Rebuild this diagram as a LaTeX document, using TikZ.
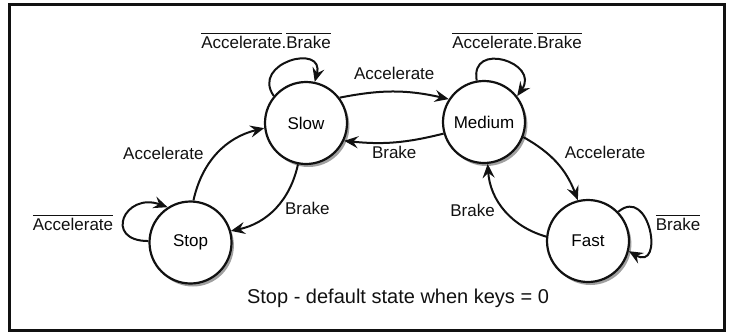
\documentclass[tikz,border=0pt]{standalone}
\usepackage{fontspec}
\setmainfont{Liberation Sans}
\usepackage{tikz}
\usetikzlibrary{arrows.meta, positioning, shadows}
\definecolor{fsmInk}{HTML}{111111}
\definecolor{fsmShadow}{HTML}{A0A0A0}
\newcommand{\notsig}[1]{$\overline{\mbox{#1}}$}
\tikzset{
  stateC/.style={circle, draw=fsmInk, line width=1.1pt, fill=white,
                 minimum size=41pt, inner sep=0pt, font=\fontsize{8.5}{10}\selectfont,
                 general shadow={fill=fsmShadow, shadow xshift=1.2pt, shadow yshift=-1.5pt}},
  arrowK/.style={-{Stealth[length=7pt, width=6pt, inset=2.5pt]}, fsmInk, line width=1pt},
  lbl/.style={font=\fontsize{8.5}{10}\selectfont, inner sep=1.5pt, text=fsmInk},
  frameK/.style={draw=fsmInk, line width=1.5pt},
}

\begin{document}
\begin{tikzpicture}[x=0.5pt, y=0.5pt]
    \useasboundingbox (0,0) rectangle (731,333);
    \draw[frameK] (9.5,2.5) rectangle (724.5,328.5);
    % states
    \node[stateC] (slow)   at (306,210)   {Slow};
    \node[stateC] (medium) at (484,211)   {Medium};
    \node[stateC] (stop)   at (190.5,90.5) {Stop};
    \node[stateC] (fast)   at (588,92)    {Fast};
    % transitions
    \draw[arrowK] (slow.37) to[bend left=12]
      node[lbl, above=4pt] {Accelerate} (medium.147);
    \draw[arrowK] (medium.196) to[bend left=10]
      node[lbl, below=0pt] {Brake} (slow.335);
    \draw[arrowK] (stop.86) to[bend left=32]
      node[lbl, left=5pt] {Accelerate} (slow.187);
    \draw[arrowK] (slow.259) to[bend left=33]
      node[lbl, right=3pt] {Brake} (stop.16);
    \draw[arrowK] (medium.339) to[bend left=20]
      node[lbl, above right=0pt and 2pt] {Accelerate} (fast.104);
    \draw[arrowK] (fast.174) to[bend left=35]
      node[lbl, left=3pt] {Brake} (medium.275);
    % self loops
    \draw[arrowK] (slow.140) to[out=125, in=75, looseness=2.4] (slow.78);
    \draw[arrowK] (medium.100) to[out=100, in=55, looseness=2.4] (medium.38);
    \draw[arrowK] (stop.178) to[out=180, in=160, looseness=3] (stop.123);
    \draw[arrowK] (fast.44) to[out=40, in=-30, looseness=2.6] (fast.-14);
    \node[lbl] (slowLoop)   at (266,293) {\notsig{Accelerate}.\notsig{Brake}};
    \node[lbl] (mediumLoop) at (517,293) {\notsig{Accelerate}.\notsig{Brake}};
    \node[lbl] (stopLoop)   at (73,111)  {\notsig{Accelerate}};
    \node[lbl] (fastLoop)   at (678,111) {\notsig{Brake}};
    % note
    \node[lbl, font=\fontsize{10}{12}\selectfont] (note) at (398,35)
      {Stop - default state when keys = 0};
\end{tikzpicture}
\end{document}
